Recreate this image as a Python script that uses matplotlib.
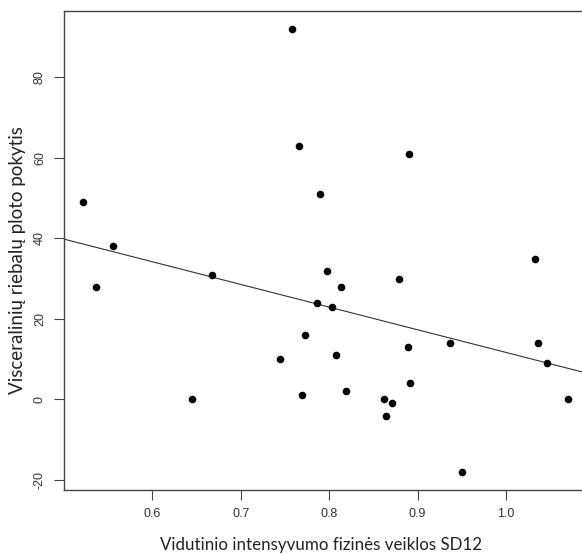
import matplotlib
matplotlib.use("Agg")
import matplotlib.pyplot as plt
import numpy as np

# vidutinio intensyvumo fizinė veikla (SD12) ir visceralinių riebalų ploto pokytis
sd12 = [0.758, 0.766, 0.522, 0.555, 0.668, 0.890, 0.790, 1.033, 0.797, 0.879,
        0.536, 0.744, 0.645, 0.769, 0.813, 0.786, 0.803, 0.773, 0.937, 1.036,
        0.889, 0.808, 1.047, 0.892, 0.819, 0.862, 0.871, 0.864, 1.070, 0.950]
pokytis = [92, 63, 49, 38, 31, 61, 51, 35, 32, 30,
           28, 10, 0, 1, 28, 24, 23, 16, 14, 14,
           13, 11, 9, 4, 2, 0, -1, -4, 0, -18]

x_ticks = [0.6, 0.7, 0.8, 0.9, 1.0]
y_ticks = [-20, 0, 20, 40, 60, 80]

x = np.array(sd12)
y = np.array(pokytis)
# tiesinė regresija (kaip abline(lm(...)))
slope, intercept = np.polyfit(x, y, 1)

fig = plt.figure(figsize=(5.82, 5.54), dpi=100)
ax = fig.add_axes([64 / 582, 1 - 490 / 554, 525 / 582, 479 / 554])

ax.scatter(x, y, s=30, color="black", zorder=3, linewidths=0)

xl = np.array([0.49, 1.10])
ax.plot(xl, intercept + slope * xl, color="#333333", lw=0.8)

ax.set_xlim(0.5, 1.094)
ax.set_ylim(-22.5, 96.5)

ax.set_xticks(x_ticks)
ax.set_xticklabels(["0.6", "0.7", "0.8", "0.9", "1.0"],
                   family="Liberation Sans", fontsize=9, color="#333333")
ax.set_yticks(y_ticks)
ax.set_yticklabels([str(v) for v in y_ticks], family="Liberation Sans",
                   fontsize=9, color="#333333", rotation=90, va="center")
ax.tick_params(axis="both", length=7, width=0.8, color="#444444")
ax.tick_params(axis="x", pad=6)
ax.tick_params(axis="y", pad=6)

for side in ["left", "bottom", "top", "right"]:
    ax.spines[side].set_color("#444444")
    ax.spines[side].set_linewidth(1.0)

ax.set_xlabel("Vidutinio intensyvumo fizinės veiklos SD12",
              family="Lato", fontsize=12.2, color="#222222")
ax.set_ylabel("Visceralinių riebalų ploto pokytis",
              family="Lato", fontsize=13.5, color="#222222")
ax.xaxis.set_label_coords(0.4895, -0.098)
ax.yaxis.set_label_coords(-0.072, 0.48)

fig.savefig("out.png", dpi=100)
